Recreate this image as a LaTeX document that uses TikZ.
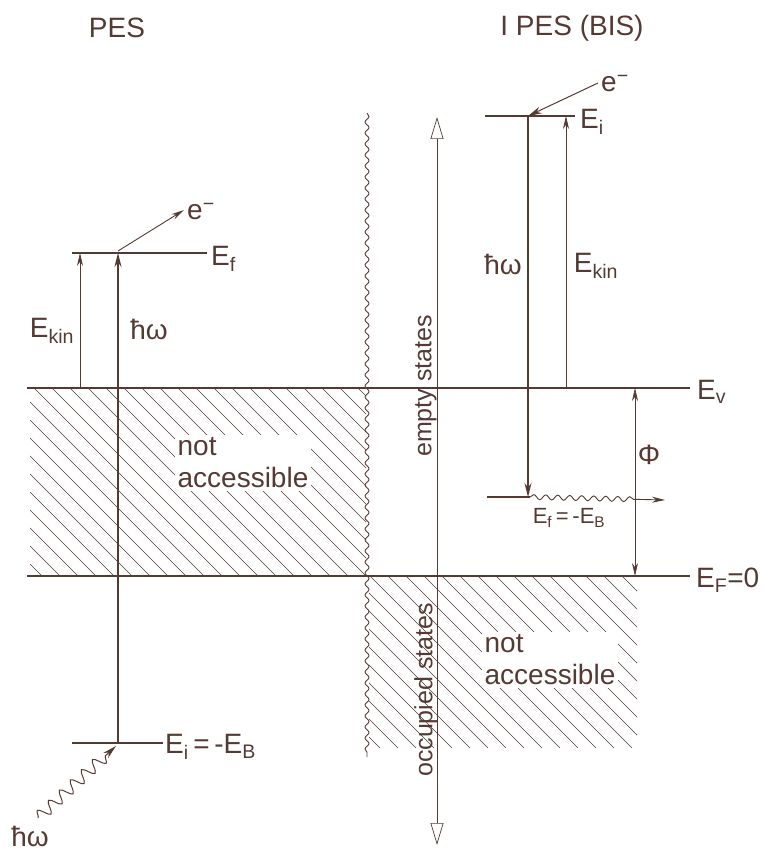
\documentclass[tikz,border=0pt]{standalone}
\usepackage{fontspec}
\setmainfont{Liberation Sans}
\usetikzlibrary{arrows.meta,decorations.pathmorphing}
\definecolor{ink}{RGB}{85,58,52}
\begin{document}
\begin{tikzpicture}[x=1pt,y=-1pt,
  every node/.style={text=ink, inner sep=0pt},
  lbl/.style={font=\fontsize{28}{32}\selectfont},
  small/.style={font=\fontsize{25}{28}\selectfont},
  tiny/.style={font=\fontsize{22}{25}\selectfont},
  level/.style={draw=ink, line width=1.4pt},
  thinarrow/.style={draw=ink, line width=0.7pt, -{Stealth[length=13pt,width=6pt]}},
  thickarrow/.style={draw=ink, line width=1.3pt, -{Stealth[length=14pt,width=7pt]}},
  hatch/.style={draw=ink, line width=0.6pt},
  wave/.style={draw=ink, line width=0.9pt, decorate, decoration={snake, amplitude=2pt, segment length=11pt}},
  photon/.style={draw=ink, line width=1pt, decorate, decoration={snake, amplitude=6pt, segment length=15pt}},
  statesarrow/.style={draw=ink, line width=0.7pt, {Triangle[open,length=22pt,width=13pt]}-{Triangle[open,length=22pt,width=13pt]}},
]
\useasboundingbox (0,0) rectangle (764,853);

% titles
\node[lbl] (tpes) at (117,28) {PES};
\node[lbl] (tipes) at (572,28) {I PES (BIS)};

% hatching
\begin{scope}
  \clip (30,388) rectangle (366,576);
  \foreach \k in {-200,-182,...,380} \draw[hatch] (\k,388) -- (\k+188,576);
\end{scope}
\begin{scope}
  \clip (369,576) rectangle (637,748);
  \foreach \k in {190,208,...,640} \draw[hatch] (\k,576) -- (\k+172,748);
\end{scope}

% not accessible labels
\node[lbl, align=left, fill=white, inner sep=3pt] (nal) at (243,463) {not\\accessible};
\node[lbl, align=left, fill=white, inner sep=3pt] (nar) at (550,660) {not\\accessible};

% main levels
\coordinate (evl) at (27,388); \coordinate (evr) at (690,388);
\coordinate (efl) at (27,576); \coordinate (efr) at (690,576);
\draw[level] (evl) -- (evr);
\draw[level] (efl) -- (efr);
\node[lbl, anchor=west] (ev) at (697,392) {E\textsubscript{v}};
\node[lbl, anchor=west] (ef0) at (696,580) {E\textsubscript{F}=0};

% separating wavy line
\coordinate (wtop) at (367,113); \coordinate (wbot) at (367,757);
\draw[wave] (wtop) -- (wbot);

% states arrow
\coordinate (stop) at (437,117); \coordinate (sbot) at (437,845);
\draw[statesarrow] (stop) -- (sbot);
\node[small, rotate=90] (est) at (426,386) {empty states};
\node[small, rotate=90] (ost) at (426,690) {occupied states};

% ---------- left: PES ----------
\coordinate (lfa) at (72,253); \coordinate (lfb) at (207,253);
\draw[level] (lfa) -- (lfb);
\node[lbl, anchor=west] (lEf) at (211,259) {E\textsubscript{f}};
\coordinate (lia) at (72,743); \coordinate (lib) at (163,743);
\draw[level] (lia) -- (lib);
\node[lbl, anchor=west] (lEi) at (165,747) {E\textsubscript{i}\,=\,-E\textsubscript{B}};

\coordinate (lk0) at (80,388); \coordinate (lk1) at (80,253);
\draw[thinarrow] (lk0) -- (lk1);
\coordinate (lh0) at (118,743); \coordinate (lh1) at (118,253);
\draw[thickarrow] (lh0) -- (lh1);
\node[lbl] (lEkin) at (52,331) {E\textsubscript{kin}};
\node[lbl] (lhw) at (149,329) {ħω};

\coordinate (le0) at (118,251); \coordinate (le1) at (184,210);
\draw[thinarrow, line width=0.9pt] (le0) -- (le1);
\node[lbl, anchor=west] (lel) at (187,212) {e\textsuperscript{−}};

\coordinate (ph0) at (38,818); \coordinate (ph1) at (116,746);
\draw[photon, decoration={post length=14pt}, -{Stealth[length=14pt,width=7pt]}] (ph0) -- (ph1);
\node[lbl] (lhwb) at (30,836) {ħω};

% ---------- right: IPES ----------
\coordinate (ria) at (485,116); \coordinate (rib) at (575,116);
\draw[level] (ria) -- (rib);
\node[lbl, anchor=west] (rEi) at (580,122) {E\textsubscript{i}};
\coordinate (re0) at (598,83); \coordinate (re1) at (528,116);
\draw[thickarrow, line width=1pt] (re0) -- (re1);
\node[lbl, anchor=west] (rel) at (601,84) {e\textsuperscript{−}};

\coordinate (rh0) at (528,116); \coordinate (rh1) at (528,497);
\draw[thickarrow] (rh0) -- (rh1);
\coordinate (rk0) at (566,388); \coordinate (rk1) at (566,116);
\draw[thinarrow] (rk0) -- (rk1);
\node[lbl] (rhw) at (503,264) {ħω};
\node[lbl] (rEkin) at (596,266) {E\textsubscript{kin}};

\coordinate (rfa) at (487,497); \coordinate (rfb) at (530,497);
\draw[level] (rfa) -- (rfb);
\coordinate (rw1) at (665,500);
\draw[draw=ink, line width=0.9pt, decorate, decoration={snake, amplitude=2.5pt, segment length=12pt, post length=28pt}, -{Stealth[length=13pt,width=6pt]}] (rfb) -- (rw1);
\node[tiny] (rEf) at (569,518) {E\textsubscript{f}\,=\,-E\textsubscript{B}};

\coordinate (phi0) at (635,388); \coordinate (phi1) at (635,576);
\draw[draw=ink, line width=0.7pt, {Stealth[length=13pt,width=6pt]}-{Stealth[length=13pt,width=6pt]}] (phi0) -- (phi1);
\node[lbl] (phi) at (649,455) {Φ};
\end{tikzpicture}
\end{document}
